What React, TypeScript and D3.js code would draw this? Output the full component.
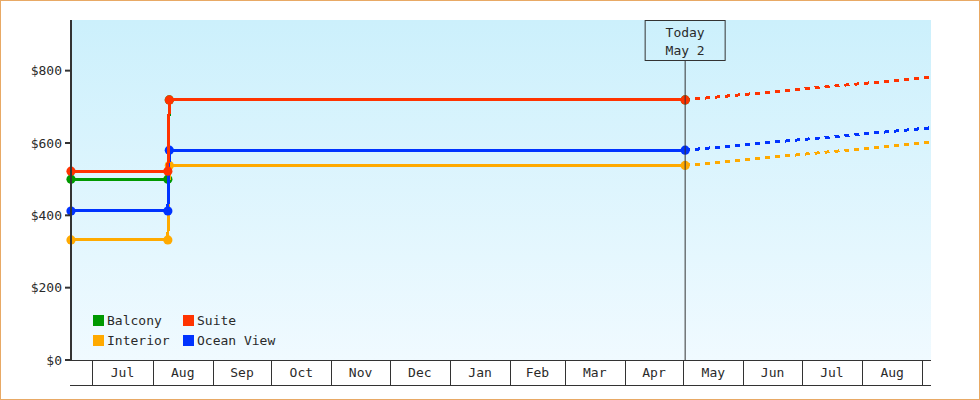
import React from 'react';
import * as d3 from 'd3';

// ---- data ----
const seriesNames = ['Balcony', 'Interior', 'Ocean View', 'Suite'];
const seriesColors = ['#009900', '#ffaa00', '#0033ff', '#ff3300'];
const historyDates = ['2022-06-20T00:00', '2022-08-08T20:00', '2022-08-09T14:00', '2023-05-02T00:00'];
const balconyHistory = [500, 500, 719, 719];
const interiorHistory = [332, 332, 538, 538];
const oceanViewHistory = [412, 412, 580, 580];
const suiteHistory = [522, 522, 719, 719];
const forecastDates = ['2023-05-02T00:00', '2023-09-05T12:00'];
const balconyForecast = [719, 782];
const interiorForecast = [538, 602];
const oceanViewForecast = [580, 642];
const suiteForecast = [719, 782];
const yTicks = [0, 200, 400, 600, 800];
const yMax = 940;
const xStart = '2022-06-20T00:00';
const xEnd = '2023-09-05T12:00';
const todayDate = '2023-05-02T00:00';
const todayLabel = ['Today', 'May 2'];
const legendOrder = ['Balcony', 'Suite', 'Interior', 'Ocean View'];

const histories = [balconyHistory, interiorHistory, oceanViewHistory, suiteHistory];
const forecasts = [balconyForecast, interiorForecast, oceanViewForecast, suiteForecast];

const W = 980;
const H = 400;
const M = { left: 71, right: 931, top: 20, bottom: 360 };
const FONT = '"DejaVu Sans Mono", monospace';
const TEXT = '#2a2a2a';

export default function App() {
  const x = d3.scaleTime().domain([new Date(xStart), new Date(xEnd)]).range([M.left, M.right]);
  const y = d3.scaleLinear().domain([0, yMax]).range([M.bottom, M.top]);
  const line = d3
    .line<[Date, number]>()
    .x((d) => x(d[0]))
    .y((d) => y(d[1]));

  const months = d3.timeMonth.range(new Date(xStart), new Date(xEnd));
  const monthLabels = months.slice(0, -1).map((m, i) => ({
    x: (x(m) + x(months[i + 1])) / 2,
    text: d3.timeFormat('%b')(m),
  }));
  const tx = x(new Date(todayDate));

  return (
    <>
      <style>{'body{margin:0}'}</style>
      <svg width={W} height={H} style={{ display: 'block' }} fontFamily={FONT} fontSize={13}>
        <defs>
          <linearGradient id="bg" x1="0" y1="0" x2="0" y2="1">
            <stop offset="0%" stopColor="#ccf0fc" />
            <stop offset="100%" stopColor="#f0faff" />
          </linearGradient>
        </defs>
        <rect x={0} y={0} width={W} height={H} fill="#fff" />
        <rect x={M.left} y={M.top} width={M.right - M.left} height={M.bottom - M.top} fill="url(#bg)" />

        {/* forecasts */}
        {forecasts.map((vals, i) => (
          <path
            key={'f' + i}
            d={line(forecastDates.map((d, j) => [new Date(d), vals[j]] as [Date, number])) || ''}
            fill="none"
            stroke={seriesColors[i]}
            strokeWidth={3}
            strokeDasharray="5,5"
            shapeRendering="crispEdges"
          />
        ))}

        {/* history */}
        {histories.map((vals, i) => {
          const pts = historyDates.map((d, j) => [new Date(d), vals[j]] as [Date, number]);
          return (
            <g key={'h' + i}>
              <path d={line(pts) || ''} fill="none" stroke={seriesColors[i]} strokeWidth={3} shapeRendering="crispEdges" />
              {pts.map((p, j) => (
                <circle key={j} cx={x(p[0])} cy={y(p[1])} r={4.6} fill={seriesColors[i]} />
              ))}
            </g>
          );
        })}

        {/* today line */}
        <line x1={tx} x2={tx} y1={60.5} y2={M.bottom} stroke="#333" strokeWidth={1} />

        {/* today box */}
        <rect x={tx - 40} y={20.5} width={80} height={40} fill="none" stroke="#333" strokeWidth={1} />
        <text x={tx} y={37} textAnchor="middle" fill={TEXT}>{todayLabel[0]}</text>
        <text x={tx} y={55} textAnchor="middle" fill={TEXT}>{todayLabel[1]}</text>

        {/* y axis */}
        <line x1={M.left} x2={M.left} y1={M.top} y2={M.bottom + 1} stroke="#333" strokeWidth={2} />
        {yTicks.map((t) => (
          <g key={t}>
            <line x1={65} x2={M.left} y1={y(t)} y2={y(t)} stroke="#333" strokeWidth={2} />
            <text x={62} y={y(t)} dy="0.35em" textAnchor="end" fill={TEXT}>
              {d3.format('$,')(t)}
            </text>
          </g>
        ))}

        {/* x axis band */}
        <line x1={70} x2={M.right} y1={M.bottom + 0.5} y2={M.bottom + 0.5} stroke="#333" strokeWidth={1} />
        <line x1={70} x2={M.right} y1={385.5} y2={385.5} stroke="#333" strokeWidth={1} />
        {months.map((m, i) => (
          <line key={i} x1={Math.round(x(m)) + 0.5} x2={Math.round(x(m)) + 0.5} y1={M.bottom} y2={385.5} stroke="#333" strokeWidth={1} />
        ))}
        {monthLabels.map((m, i) => (
          <text key={i} x={m.x} y={377} textAnchor="middle" fill={TEXT}>
            {m.text}
          </text>
        ))}

        {/* legend */}
        {legendOrder.map((name, k) => {
          const idx = seriesNames.indexOf(name);
          const col = k % 2;
          const row = Math.floor(k / 2);
          const lx = 93 + col * 90;
          const ly = 315 + row * 20;
          return (
            <g key={name}>
              <rect x={lx} y={ly} width={11} height={11} fill={seriesColors[idx]} />
              <text x={lx + 14} y={ly + 10} fill={TEXT}>{name}</text>
            </g>
          );
        })}

        {/* outer border */}
        <rect x={0.5} y={0.5} width={W - 1} height={H - 1} fill="none" stroke="#e8a965" strokeWidth={1} />
      </svg>
    </>
  );
}
